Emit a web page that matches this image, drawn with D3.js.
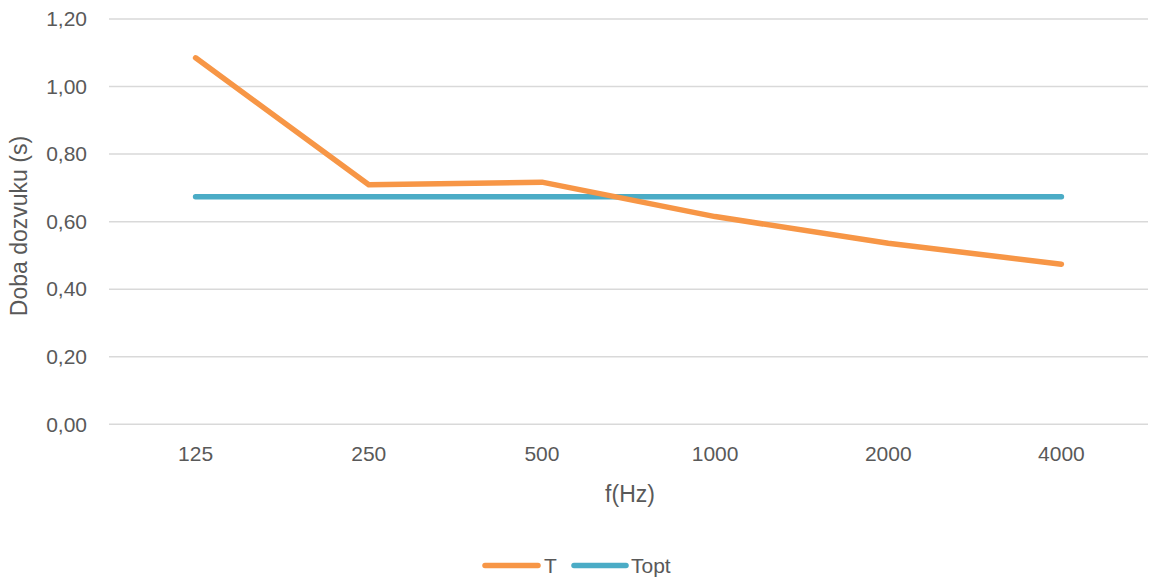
<!DOCTYPE html>
<html>
<head>
<meta charset="utf-8">
<script src="https://cdn.jsdelivr.net/npm/d3@7"></script>
<style>
  html, body { margin: 0; padding: 0; background: #fff; }
  svg { display: block; }
  text { font-family: "Liberation Sans", Arial, sans-serif; fill: #595959; }
</style>
</head>
<body>
<svg id="chart" width="1154" height="579"></svg>
<script>
const categories = ["125", "250", "500", "1000", "2000", "4000"];
const seriesT = [1.085, 0.709, 0.717, 0.615, 0.536, 0.474];
const seriesTopt = [0.674, 0.674, 0.674, 0.674, 0.674, 0.674];
const yTicks = [0, 0.2, 0.4, 0.6, 0.8, 1.0, 1.2];
const seriesNames = ["T", "Topt"];
const seriesColors = ["#F79646", "#4BACC6"];

const svg = d3.select("#chart");
const plot = { left: 109, right: 1148, top: 19, bottom: 424.3 };

const x = d3.scaleBand().domain(categories).range([plot.left, plot.right]);
const y = d3.scaleLinear().domain([0, 1.2]).range([plot.bottom, plot.top]);
const fmt = v => d3.format(".2f")(v).replace(".", ",");

// gridlines
svg.append("g").selectAll("line").data(yTicks).join("line")
  .attr("x1", plot.left).attr("x2", plot.right)
  .attr("y1", d => y(d)).attr("y2", d => y(d))
  .attr("stroke", "#D9D9D9").attr("stroke-width", 1.5);

// y axis labels
const yAxis = svg.append("g").attr("transform", `translate(${plot.left - 22},0)`)
  .call(d3.axisLeft(y).tickValues(yTicks).tickFormat(fmt).tickSize(0).tickPadding(0));
yAxis.select(".domain").remove();
yAxis.selectAll("text").style("font-size", "21px").attr("fill", "#595959")
  .attr("font-family", "Liberation Sans, Arial, sans-serif");

// x axis labels
const xAxis = svg.append("g").attr("transform", `translate(0,${plot.bottom + 22})`)
  .call(d3.axisBottom(x).tickSize(0).tickPadding(0));
xAxis.select(".domain").remove();
xAxis.selectAll("text").style("font-size", "21px").attr("fill", "#595959")
  .attr("font-family", "Liberation Sans, Arial, sans-serif");

// axis titles
svg.append("text").attr("x", 630).attr("y", 502)
  .attr("text-anchor", "middle").style("font-size", "23px").text("f(Hz)");
svg.append("text")
  .attr("transform", "translate(27,226) rotate(-90)")
  .attr("text-anchor", "middle").style("font-size", "23px").text("Doba dozvuku (s)");

// lines
const line = d3.line().x((d, i) => x(categories[i]) + x.bandwidth() / 2).y(d => y(d));
[seriesTopt, seriesT].forEach((s, k) => {
  const color = k === 0 ? seriesColors[1] : seriesColors[0];
  svg.append("path").datum(s).attr("d", line)
    .attr("fill", "none").attr("stroke", color)
    .attr("stroke-width", 5.5).attr("stroke-linecap", "round").attr("stroke-linejoin", "round");
});

// legend
const legendItems = [
  { name: seriesNames[0], color: seriesColors[0], x1: 485, x2: 538, tx: 544 },
  { name: seriesNames[1], color: seriesColors[1], x1: 574, x2: 626, tx: 631 }
];
const lg = svg.append("g");
legendItems.forEach(it => {
  lg.append("line").attr("x1", it.x1).attr("x2", it.x2).attr("y1", 565.5).attr("y2", 565.5)
    .attr("stroke", it.color).attr("stroke-width", 5.5).attr("stroke-linecap", "round");
  lg.append("text").attr("x", it.tx).attr("y", 573).style("font-size", "21px").text(it.name);
});
</script>
</body>
</html>
